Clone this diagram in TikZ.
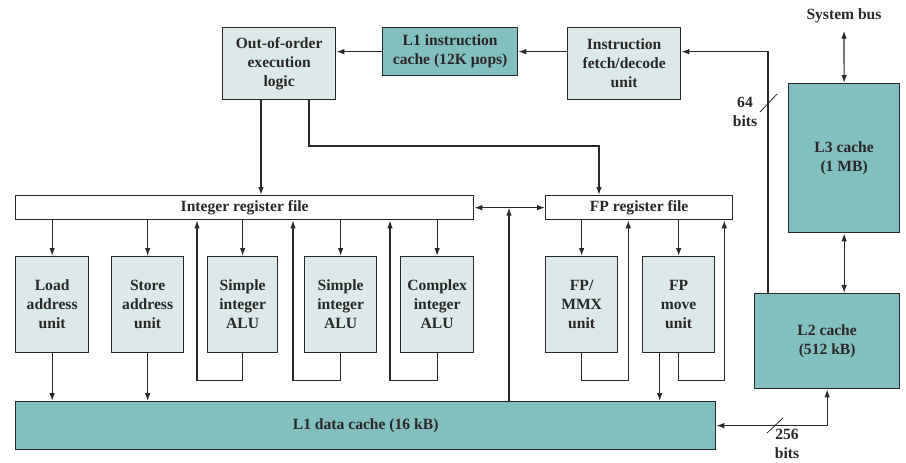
\documentclass[tikz,border=0pt]{standalone}
\usepackage{fontspec}
\setmainfont{Liberation Serif}
\usetikzlibrary{arrows.meta, positioning}
\definecolor{paleteal}{RGB}{220,233,232}
\definecolor{darkteal}{RGB}{132,191,192}
\definecolor{inkgray}{RGB}{40,40,40}
\tikzstyle{every node}=[font=\bfseries\fontsize{15.6}{19}\selectfont, text=inkgray]
\tikzstyle{box}=[draw=inkgray, line width=1.3pt, rectangle, anchor=north west, align=center, inner sep=0pt]
\tikzstyle{unit}=[box, fill=paleteal, minimum width=72pt, minimum height=96pt]
\tikzstyle{cache}=[box, fill=darkteal]
\tikzstyle{regfile}=[box, fill=white, minimum height=24pt]
\tikzstyle{wire}=[draw=inkgray, line width=1.2pt]
\tikzstyle{tick}=[draw=inkgray, line width=0.8pt]

\begin{document}
\begin{tikzpicture}[x=1pt, y=-1pt, >={Latex[length=8pt,width=5.5pt]}]
    \useasboundingbox (0,0) rectangle (906,463);
    \node[box, fill=paleteal, minimum width=113pt, minimum height=72pt] (ooo) at (222,27) {Out-of-order\\execution\\logic};
    \node[cache, minimum width=135pt, minimum height=48pt] (l1i) at (382,27) {L1 instruction\\cache (12K μops)};
    \node[box, fill=paleteal, minimum width=113pt, minimum height=72pt] (fetch) at (567,27) {Instruction\\fetch/decode\\unit};
    \node[cache, minimum width=111pt, minimum height=149pt] (l3) at (788,83) {L3 cache\\(1 MB)};
    \node[cache, minimum width=145pt, minimum height=95pt] (l2) at (754,293) {L2 cache\\(512 kB)};
    \node (sysbus) at (844,16) {System bus};
    \node[regfile, minimum width=458pt] (intreg) at (15,195) {Integer register file};
    \node[regfile, minimum width=187pt] (fpreg) at (545,195) {FP register file};
    \node[unit, minimum width=73pt] (load) at (15,256) {Load\\address\\unit};
    \node[unit] (store) at (111,256) {Store\\address\\unit};
    \node[unit, minimum width=70pt] (alua) at (207,256) {Simple\\integer\\ALU};
    \node[unit] (alub) at (304,256) {Simple\\integer\\ALU};
    \node[unit, minimum width=73pt] (alucx) at (400,256) {Complex\\integer\\ALU};
    \node[unit] (fpmmx) at (545,256) {FP/\\MMX\\unit};
    \node[unit] (fpmove) at (642,256) {FP\\move\\unit};
    \node[cache, minimum width=700pt, minimum height=48pt] (l1d) at (15,401) {L1 data cache (16 kB)};
    \node[align=center] (bits64) at (745,112) {64\\bits};
    \node[align=center] (bits256) at (787,444) {256\\bits};
    \coordinate (bustap) at (768,293);
    \coordinate (cachetap) at (509,401);

    \draw[wire, ->] (l1i.west) -- (l1i.west -| ooo.east);
    \draw[wire, ->] (l1i.east -| fetch.west) -- (l1i.east);
    \draw[wire, ->] (bustap) |- (l1i.east -| fetch.east);
    \draw[tick] (760,112) -- (777,94);
    \draw[wire, <->] (sysbus.south) ++(0,4) -- (l3.north);
    \draw[wire, <->] (l3.south) -- (l2.north -| l3.south);
    \draw[wire, <->] (l1d.east) -| (l2.south);
    \draw[tick] (767,433) -- (783,418);

    \draw[wire, ->] (ooo.south -| 261,0) -- (intreg.north -| 261,0);
    \draw[wire, ->] (ooo.south -| 309,0) |- (599,146) -- (fpreg.north -| 599,0);
    \draw[wire, <->] (intreg.east) -- (fpreg.west);
    \draw[wire, ->] (cachetap) -- (cachetap |- intreg.east);

    \draw[wire, ->] (load.north |- intreg.south) -- (load.north);
    \draw[wire, ->] (store.north |- intreg.south) -- (store.north);
    \draw[wire, ->] (alua.north |- intreg.south) -- (alua.north);
    \draw[wire, ->] (alub.north |- intreg.south) -- (alub.north);
    \draw[wire, ->] (alucx.north |- intreg.south) -- (alucx.north);
    \draw[wire, ->] (fpmmx.north |- fpreg.south) -- (fpmmx.north);
    \draw[wire, ->] (fpmove.north |- fpreg.south) -- (fpmove.north);

    \draw[wire, ->] (alua.south) -- ++(0,27) -| ([xshift=-10pt]alua.west |- intreg.south);
    \draw[wire, ->] (alub.south) -- ++(0,27) -| ([xshift=-11pt]alub.west |- intreg.south);
    \draw[wire, ->] (alucx.south) -- ++(0,27) -| ([xshift=-10pt]alucx.west |- intreg.south);
    \draw[wire, ->] (fpmmx.south) -- ++(0,27) -| ([xshift=10pt]fpmmx.east |- fpreg.south);
    \draw[wire, ->] (fpmove.south) -- ++(0,27) -| ([xshift=9pt]fpmove.east |- fpreg.south);

    \draw[wire, ->] (load.south) -- (load.south |- l1d.north);
    \draw[wire, ->] (store.south) -- (store.south |- l1d.north);
    \draw[wire, ->] ([xshift=-19pt]fpmove.south) -- ([xshift=-19pt]fpmove.south |- l1d.north);
\end{tikzpicture}
\end{document}
